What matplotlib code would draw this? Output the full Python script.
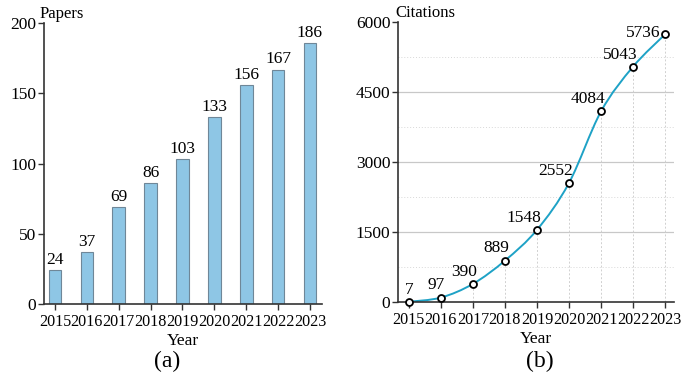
import matplotlib
matplotlib.use("Agg")
import matplotlib.pyplot as plt
from matplotlib.path import Path
from matplotlib.patches import PathPatch
import numpy as np

# ── Donnees ─────────────────────────────────────────────────────────────────
years     = ["2015", "2016", "2017", "2018", "2019", "2020", "2021", "2022", "2023"]
papers    = [24, 37, 69, 86, 103, 133, 156, 167, 186]
citations = [7, 97, 390, 889, 1548, 2552, 4084, 5043, 5736]

BAR_COLOR  = "#8ec6e5"
LINE_COLOR = "#1ea2c6"
FS = 12.5        # etiquettes, titres d'axes
FS_TICK = 11.6   # annees serrees sous l'axe

plt.rcParams["font.family"] = ["Liberation Serif", "DejaVu Serif"]
plt.rcParams["font.size"] = FS

fig = plt.figure(figsize=(6.97, 3.80), dpi=100)
ax1 = fig.add_axes([0.063, 0.200, 0.399, 0.739])
ax2 = fig.add_axes([0.571, 0.205, 0.396, 0.737])

x = np.arange(len(years))


def style_axes(ax):
    for side in ("top", "right"):
        ax.spines[side].set_visible(False)
    for side in ("left", "bottom"):
        ax.spines[side].set_color("#333333")
        ax.spines[side].set_linewidth(1.2)
    ax.tick_params(axis="both", direction="out", length=4, width=1,
                   color="#333333", labelsize=FS, pad=1.5)
    ax.tick_params(axis="x", labelsize=FS_TICK, pad=3)
    ax.set_xticks(x)
    ax.set_xticklabels(years)


# ── (a) nombre d'articles ───────────────────────────────────────────────────
style_axes(ax1)
bars = ax1.bar(x, papers, width=0.4, color=BAR_COLOR, edgecolor="#6f8798",
               linewidth=0.8, zorder=2)
for bar, val in zip(bars, papers):
    ax1.text(bar.get_x() + bar.get_width() / 2, val + 1.5, f"{val}",
             ha="center", va="bottom", fontsize=FS)
ax1.set_xlim(-0.35, 8.38)
ax1.set_ylim(0, 200)
ax1.set_yticks([0, 50, 100, 150, 200])
ax1.text(-0.015, 1.005, "Papers", transform=ax1.transAxes, ha="left",
         va="bottom", fontsize=FS - 0.5)
ax1.set_xlabel("Year", fontsize=FS, labelpad=2.5)
fig.text(0.240, 0.050, "(a)", ha="center", va="center", fontsize=17)

# ── (b) nombre de citations ────────────────────────────────────────────────
style_axes(ax2)
ax2.set_xlim(-0.34, 8.28)
ax2.set_ylim(0, 6000)
ax2.set_yticks([0, 1500, 3000, 4500, 6000])
for yv in (1500, 3000, 4500):
    ax2.axhline(yv, color="#c8c8c8", linewidth=0.9, zorder=0)
for yv in (750, 2250, 3750, 5250):
    ax2.axhline(yv, color="#d8d8d8", linewidth=0.7, linestyle=(0, (1, 2)),
                zorder=0)
ax2.vlines(x, 0, citations, colors="#d0d0d0", linewidth=0.7,
           linestyles=(0, (2, 2)), zorder=0)

# courbe lissee (Bezier de type Catmull-Rom passant par les points)
pts = np.column_stack([x, citations]).astype(float)
verts = [tuple(pts[0])]
codes = [Path.MOVETO]
for i in range(len(pts) - 1):
    p0 = pts[i - 1] if i > 0 else pts[i]
    p1 = pts[i]
    p2 = pts[i + 1]
    p3 = pts[i + 2] if i + 2 < len(pts) else pts[i + 1]
    c1 = p1 + (p2 - p0) / 6
    c2 = p2 - (p3 - p1) / 6
    verts += [tuple(c1), tuple(c2), tuple(p2)]
    codes += [Path.CURVE4] * 3
ax2.add_patch(PathPatch(Path(verts, codes), facecolor="none",
                        edgecolor=LINE_COLOR, linewidth=1.4, zorder=2))
ax2.plot(x, citations, linestyle="none", marker="o", markersize=5,
         markerfacecolor="white", markeredgecolor="black",
         markeredgewidth=1.3, zorder=3, clip_on=False)

for i, val in enumerate(citations):
    dx, dy = (3, 3) if i < len(citations) - 1 else (-3, -5)
    ax2.annotate(f"{val}", (x[i], val), xytext=(dx, dy),
                 textcoords="offset points", ha="right", va="bottom",
                 fontsize=FS)

ax2.text(-0.01, 1.005, "Citations", transform=ax2.transAxes, ha="left",
         va="bottom", fontsize=FS - 0.5)
ax2.set_xlabel("Year", fontsize=FS, labelpad=2.5)
fig.text(0.774, 0.050, "(b)", ha="center", va="center", fontsize=17)

fig.savefig("out.png", dpi=100)
